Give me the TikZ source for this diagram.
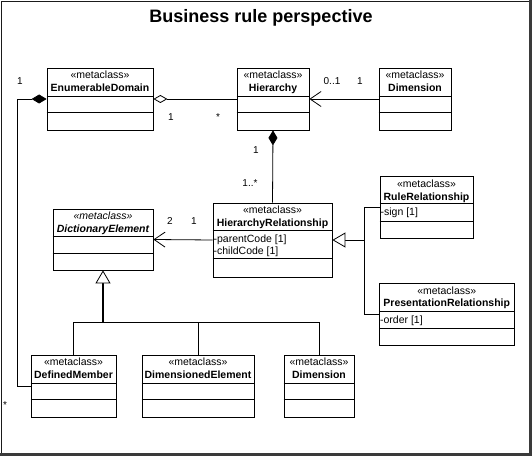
\documentclass[tikz,border=0pt]{standalone}
\usepackage{fontspec}
\setmainfont{Liberation Sans}
\usetikzlibrary{arrows.meta}
\definecolor{frameShadow}{HTML}{3A3A3A}
\definecolor{frameLine}{HTML}{1A1A1A}
\def\stereoText{«metaclass»}

\begin{document}
\begin{tikzpicture}[x=1bp,y=-1bp,
  classbox/.style={draw, line width=0.8bp, inner sep=0pt},
  stereotext/.style={anchor=base, inner sep=0pt, font=\fontsize{10.5bp}{13bp}\selectfont},
  nametext/.style={anchor=base, inner sep=0pt, font=\fontsize{10.5bp}{13bp}\selectfont\bfseries},
  attrtext/.style={anchor=base west, inner sep=0pt, font=\fontsize{10.5bp}{13bp}\selectfont},
  multlabel/.style={anchor=base, inner sep=0pt, font=\fontsize{10bp}{12bp}\selectfont},
  link/.style={line width=0.8bp},
  ]
\useasboundingbox (0,0) rectangle (532,456);

% frame
\draw[frameLine, line width=1bp] (1.5,1.5) rectangle (530,454);
\fill[frameShadow] (529,0.5) rectangle (532,456);
\fill[frameShadow] (0.5,453) rectangle (532,456);
\node[anchor=base, inner sep=0pt, font=\fontsize{18bp}{20bp}\selectfont\bfseries] (title) at (261,23) {Business rule perspective};

% top row
\node[classbox, minimum width=106bp, minimum height=62bp] (enumerableDomain) at (100,99) {};
\node[stereotext] (enumerableDomainStereo) at ([yshift=-11.3bp]enumerableDomain.north) {\stereoText};
\node[nametext] (enumerableDomainName) at ([yshift=-23.7bp]enumerableDomain.north) {EnumerableDomain};
\draw[link] ([yshift=-29bp]enumerableDomain.north west) -- ([yshift=-29bp]enumerableDomain.north east);
\draw[link] ([yshift=-45bp]enumerableDomain.north west) -- ([yshift=-45bp]enumerableDomain.north east);

\node[classbox, minimum width=72bp, minimum height=62bp] (hierarchy) at (273,99) {};
\node[stereotext] (hierarchyStereo) at ([yshift=-11.3bp]hierarchy.north) {\stereoText};
\node[nametext] (hierarchyName) at ([yshift=-23.7bp]hierarchy.north) {Hierarchy};
\draw[link] ([yshift=-29bp]hierarchy.north west) -- ([yshift=-29bp]hierarchy.north east);
\draw[link] ([yshift=-45bp]hierarchy.north west) -- ([yshift=-45bp]hierarchy.north east);

\node[classbox, minimum width=72bp, minimum height=62bp] (dimensionTop) at (415,99) {};
\node[stereotext] (dimensionTopStereo) at ([yshift=-11.3bp]dimensionTop.north) {\stereoText};
\node[nametext] (dimensionTopName) at ([yshift=-23.7bp]dimensionTop.north) {Dimension};
\draw[link] ([yshift=-29bp]dimensionTop.north west) -- ([yshift=-29bp]dimensionTop.north east);
\draw[link] ([yshift=-45bp]dimensionTop.north west) -- ([yshift=-45bp]dimensionTop.north east);

% middle row
\node[classbox, minimum width=100bp, minimum height=61bp] (dictionaryElement) at (103,239.5) {};
\node[stereotext, font=\fontsize{10.5bp}{13bp}\selectfont\itshape] (dictionaryElementStereo) at ([yshift=-11.3bp]dictionaryElement.north) {\stereoText};
\node[nametext, font=\fontsize{10.5bp}{13bp}\selectfont\bfseries\itshape] (dictionaryElementName) at ([yshift=-23.7bp]dictionaryElement.north) {DictionaryElement};
\draw[link] ([yshift=-28bp]dictionaryElement.north west) -- ([yshift=-28bp]dictionaryElement.north east);
\draw[link] ([yshift=-45bp]dictionaryElement.north west) -- ([yshift=-45bp]dictionaryElement.north east);

\node[classbox, minimum width=119bp, minimum height=74bp] (hierarchyRelationship) at (272.5,240) {};
\node[stereotext] (hierarchyRelationshipStereo) at ([yshift=-11.3bp]hierarchyRelationship.north) {\stereoText};
\node[nametext] (hierarchyRelationshipName) at ([yshift=-23.7bp]hierarchyRelationship.north) {HierarchyRelationship};
\draw[link] ([yshift=-28bp]hierarchyRelationship.north west) -- ([yshift=-28bp]hierarchyRelationship.north east);
\draw[link] ([yshift=-56bp]hierarchyRelationship.north west) -- ([yshift=-56bp]hierarchyRelationship.north east);
\node[attrtext] (parentCode) at ([xshift=0.8bp, yshift=-40bp]hierarchyRelationship.north west) {-parentCode [1]};
\node[attrtext] (childCode) at ([xshift=0.8bp, yshift=-52bp]hierarchyRelationship.north west) {-childCode [1]};

\node[classbox, minimum width=93bp, minimum height=61.5bp] (ruleRelationship) at (426.5,207.5) {};
\node[stereotext] (ruleRelationshipStereo) at ([yshift=-11.3bp]ruleRelationship.north) {\stereoText};
\node[nametext] (ruleRelationshipName) at ([yshift=-23.7bp]ruleRelationship.north) {RuleRelationship};
\draw[link] ([yshift=-27.5bp]ruleRelationship.north west) -- ([yshift=-27.5bp]ruleRelationship.north east);
\draw[link] ([yshift=-45bp]ruleRelationship.north west) -- ([yshift=-45bp]ruleRelationship.north east);
\node[attrtext] (signAttr) at ([xshift=0.8bp, yshift=-39.5bp]ruleRelationship.north west) {-sign [1]};

\node[classbox, minimum width=134.5bp, minimum height=61.5bp] (presentationRelationship) at (446.75,314.25) {};
\node[stereotext] (presentationRelationshipStereo) at ([yshift=-11.3bp]presentationRelationship.north) {\stereoText};
\node[nametext] (presentationRelationshipName) at ([yshift=-23.7bp]presentationRelationship.north) {PresentationRelationship};
\draw[link] ([yshift=-28bp]presentationRelationship.north west) -- ([yshift=-28bp]presentationRelationship.north east);
\draw[link] ([yshift=-45bp]presentationRelationship.north west) -- ([yshift=-45bp]presentationRelationship.north east);
\node[attrtext] (orderAttr) at ([xshift=0.8bp, yshift=-40bp]presentationRelationship.north west) {-order [1]};

% bottom row
\node[classbox, minimum width=85bp, minimum height=62bp] (definedMember) at (73.5,386) {};
\node[stereotext] (definedMemberStereo) at ([yshift=-11.3bp]definedMember.north) {\stereoText};
\node[nametext] (definedMemberName) at ([yshift=-23.7bp]definedMember.north) {DefinedMember};
\draw[link] ([yshift=-28.5bp]definedMember.north west) -- ([yshift=-28.5bp]definedMember.north east);
\draw[link] ([yshift=-45bp]definedMember.north west) -- ([yshift=-45bp]definedMember.north east);

\node[classbox, minimum width=112bp, minimum height=62bp] (dimensionedElement) at (198,386) {};
\node[stereotext] (dimensionedElementStereo) at ([yshift=-11.3bp]dimensionedElement.north) {\stereoText};
\node[nametext] (dimensionedElementName) at ([yshift=-23.7bp]dimensionedElement.north) {DimensionedElement};
\draw[link] ([yshift=-28.5bp]dimensionedElement.north west) -- ([yshift=-28.5bp]dimensionedElement.north east);
\draw[link] ([yshift=-45bp]dimensionedElement.north west) -- ([yshift=-45bp]dimensionedElement.north east);

\node[classbox, minimum width=70bp, minimum height=62bp] (dimensionBottom) at (319,386) {};
\node[stereotext] (dimensionBottomStereo) at ([yshift=-11.3bp]dimensionBottom.north) {\stereoText};
\node[nametext] (dimensionBottomName) at ([yshift=-23.7bp]dimensionBottom.north) {Dimension};
\draw[link] ([yshift=-28.5bp]dimensionBottom.north west) -- ([yshift=-28.5bp]dimensionBottom.north east);
\draw[link] ([yshift=-45bp]dimensionBottom.north west) -- ([yshift=-45bp]dimensionBottom.north east);

% connectors
\draw[link, -{Diamond[open, length=14bp, width=8bp]}] (hierarchy.west) -- (enumerableDomain.east);
\draw[link, -{Straight Barb[length=11bp, width=15bp]}] (dimensionTop.west) -- (hierarchy.east);
\draw[link, -{Diamond[length=15bp, width=9bp]}] (hierarchyRelationship.north) -- (hierarchy.south);
\draw[link, -{Straight Barb[length=11bp, width=15bp]}] (hierarchyRelationship.west) -- (dictionaryElement.west -| dictionaryElement.east);

\coordinate (relJoin) at (364,240);
\draw[link] (ruleRelationship.west) -| (relJoin);
\draw[link] (presentationRelationship.west) -| (relJoin);
\draw[link, -{Triangle[open, fill=white, length=13bp, width=15bp]}] (relJoin) -- (hierarchyRelationship.east);

\coordinate (elemJoin) at (103,322.5);
\draw[line width=1.5bp, -{Triangle[open, fill=white, length=13bp, width=15bp, line width=0.8bp]}] (elemJoin) -- (dictionaryElement.south);
\draw[link] (definedMember.north) |- (elemJoin);
\draw[link] (dimensionedElement.north) |- (elemJoin);
\draw[link] (dimensionBottom.north) |- (elemJoin);

\coordinate (leftRail) at (17,386);
\draw[link, -{Diamond[length=15bp, width=9bp]}] (definedMember.west) -- (leftRail) |- (enumerableDomain.west);

% multiplicities
\node[multlabel] (multEdLeft) at (20,84.5) {1};
\node[multlabel] (multEdRight) at (171,121) {1};
\node[multlabel] (multHierLeft) at (218,121) {*};
\node[multlabel] (multHierRight) at (332,84.5) {0..1};
\node[multlabel] (multDimTop) at (360,84.5) {1};
\node[multlabel] (multHierDown) at (256,154) {1};
\node[multlabel] (multRelUp) at (250,186.5) {1..*};
\node[multlabel] (multDictRight) at (170,224.5) {2};
\node[multlabel] (multRelLeft) at (194,224.5) {1};
\node[multlabel] (multDefMember) at (5,408) {*};

\end{tikzpicture}
\end{document}
